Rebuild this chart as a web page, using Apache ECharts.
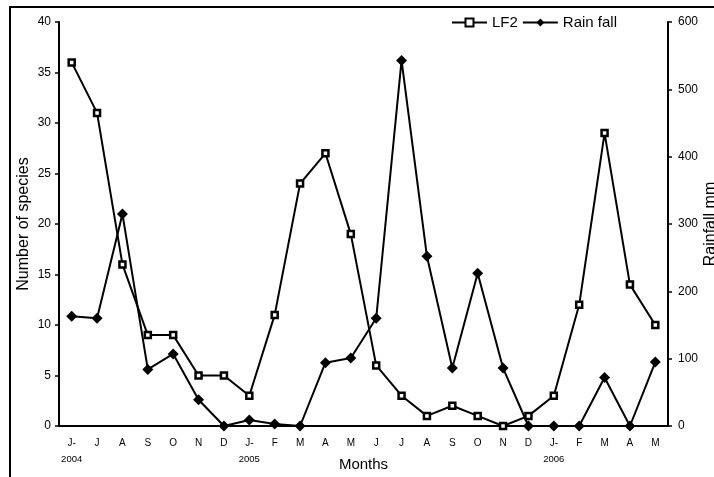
<!DOCTYPE html>
<html><head><meta charset="utf-8">
<script src="https://cdn.jsdelivr.net/npm/echarts@6/dist/echarts.min.js"></script>
<style>html,body{margin:0;padding:0;background:#fff}#c{width:714px;height:477px}</style>
</head><body><div id="c"></div>
<script>
var months = ['J-','J','A','S','O','N','D','J-','F','M','A','M','J','J','A','S','O','N','D','J-','F','M','A','M'];
var yearLabels = {0:'2004', 7:'2005', 19:'2006'};
var lf2 = [36,31,16,9,9,5,5,3,11,24,27,19,6,3,1,2,1,0,1,3,12,29,14,10];
var rainfall = [163,160,315,84,107,39,0,9,3,0,94,101,160,543,252,86,227,86,0,0,0,72,0,95];
var leftTicks = {min:0, max:40, interval:5};
var rightTicks = {min:0, max:600, interval:100};

var F = 'Liberation Sans, Arial, sans-serif';
var chart = echarts.init(document.getElementById('c'));
chart.setOption({
  animation:false,
  backgroundColor:'#fff',
  textStyle:{fontFamily:F},
  graphic:[{type:'rect', shape:{x:10, y:7, width:730, height:500}, style:{fill:'none', stroke:'#000', lineWidth:2}, silent:true}],
  legend:{
    left:451, top:15, padding:0, itemWidth:35, itemHeight:10, itemGap:4,
    textStyle:{fontFamily:F, fontSize:15, color:'#000'},
    data:['LF2','Rain fall']
  },
  grid:{left:59, right:46, top:22, bottom:51, containLabel:false, outerBoundsMode:'none'},
  xAxis:{
    type:'category',
    data: months.map(function(m,i){return String(i);}),
    name:'Months', nameLocation:'middle', nameGap:31, nameMoveOverlap:false,
    nameTextStyle:{fontFamily:F, fontSize:15, color:'#000'},
    axisLine:{lineStyle:{color:'#000', width:2}},
    axisTick:{length:3, lineStyle:{color:'#000', width:1.5}},
    axisLabel:{
      interval:0, margin:9, color:'#000',
      formatter:function(v){var i=+v; var s='{m|'+months[i]+'}'; if(yearLabels[i]) s+='\n{y|'+yearLabels[i]+'}'; return s;},
      rich:{m:{fontFamily:F, fontSize:10, lineHeight:16, color:'#000'}, y:{fontFamily:F, fontSize:9.5, lineHeight:16, color:'#000'}}
    },
    splitLine:{show:false}
  },
  yAxis:[{
    type:'value', min:leftTicks.min, max:leftTicks.max, interval:leftTicks.interval,
    name:'Number of species', nameLocation:'middle', nameGap:27, nameRotate:90, nameMoveOverlap:false,
    nameTextStyle:{fontFamily:F, fontSize:16, color:'#000'},
    axisLine:{show:true, lineStyle:{color:'#000', width:2}},
    axisTick:{show:true, length:4, lineStyle:{color:'#000', width:1.5}},
    axisLabel:{fontFamily:F, fontSize:12, color:'#000', margin:8},
    splitLine:{show:false}
  },{
    type:'value', position:'right', min:rightTicks.min, max:rightTicks.max, interval:rightTicks.interval,
    name:'Rainfall mm', nameLocation:'middle', nameGap:35, nameRotate:90, nameMoveOverlap:false,
    nameTextStyle:{fontFamily:F, fontSize:16, color:'#000'},
    axisLine:{show:true, lineStyle:{color:'#000', width:2}},
    axisTick:{show:true, length:4, lineStyle:{color:'#000', width:1.5}},
    axisLabel:{fontFamily:F, fontSize:12, color:'#000', margin:10},
    splitLine:{show:false}
  }],
  series:[{
    name:'LF2', type:'line', yAxisIndex:0, data:lf2,
    symbol:'rect', symbolSize:6, showAllSymbol:true,
    lineStyle:{color:'#000', width:2},
    itemStyle:{color:'#fff', borderColor:'#000', borderWidth:2.5},
    z:3
  },{
    name:'Rain fall', type:'line', yAxisIndex:1, data:rainfall,
    symbol:'diamond', symbolSize:[11,11], showAllSymbol:true,
    lineStyle:{color:'#000', width:2},
    itemStyle:{color:'#000', borderColor:'#000', borderWidth:0},
    z:2
  }]
});
</script></body></html>
